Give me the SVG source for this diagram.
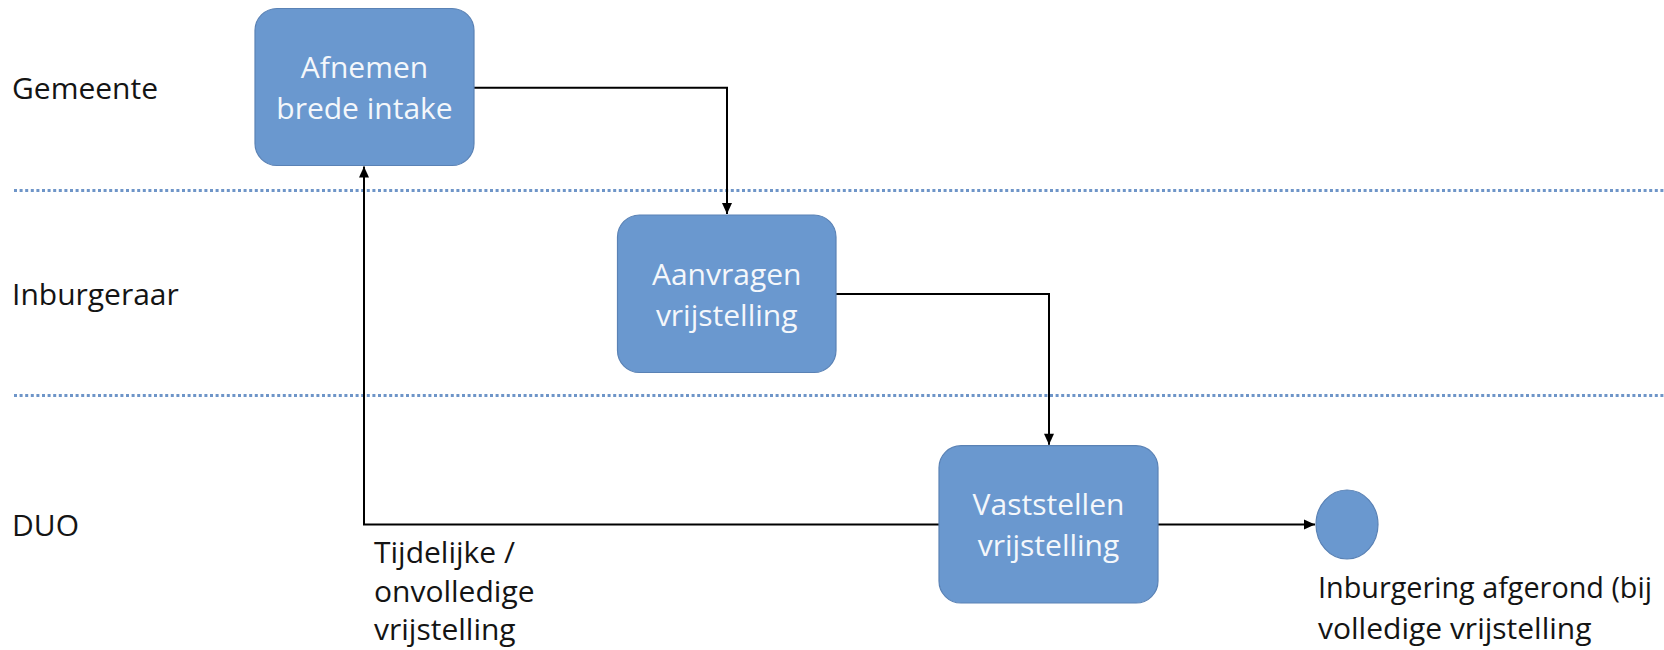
<svg xmlns="http://www.w3.org/2000/svg" width="1664" height="650" viewBox="0 0 1664 650">
<style>
  .lane { stroke: #6E95C8; stroke-width: 3; stroke-dasharray: 3 2.6; fill: none; }
  .box { fill: #6A98CF; stroke: #5A82B5; stroke-width: 1.2; }
  .btxt { font-family: "Open Sans", "Noto Sans", sans-serif; font-size: 30px; fill: #F4F7FB; text-anchor: middle; }
  .lbl { font-family: "Open Sans", "Noto Sans", sans-serif; font-size: 30px; fill: #141414; }
  .conn { stroke: #000; stroke-width: 2; fill: none; }
</style>
<defs>
  <marker id="arr" markerUnits="userSpaceOnUse" markerWidth="13" markerHeight="12" viewBox="0 0 13 12" refX="12" refY="6" orient="auto">
    <path d="M1,1 L12,6 L1,11 Z" fill="#000"/>
  </marker>
</defs>
<rect width="1664" height="650" fill="#FFFFFF"/>

<g id="lanes">
  <line class="lane" x1="14" y1="190.5" x2="1664" y2="190.5"/>
  <line class="lane" x1="14" y1="395.5" x2="1664" y2="395.5"/>
  <text class="lbl" x="12" y="98.5">Gemeente</text>
  <text class="lbl" x="12" y="304.5">Inburgeraar</text>
  <text class="lbl" x="12" y="536">DUO</text>
</g>

<g id="connectors">
  <path class="conn" d="M474,87.7 H727 V214" marker-end="url(#arr)"/>
  <path class="conn" d="M836,294 H1049 V444.7" marker-end="url(#arr)"/>
  <path class="conn" d="M939,524.5 H364 V166.5" marker-end="url(#arr)"/>
  <path class="conn" d="M1158,524.5 H1315" marker-end="url(#arr)"/>
  <text class="lbl" x="374">
    <tspan x="374" y="563">Tijdelijke /</tspan>
    <tspan x="374" y="602">onvolledige</tspan>
    <tspan x="374" y="640">vrijstelling</tspan>
  </text>
</g>

<g id="node-afnemen">
  <rect class="box" x="255" y="8.5" width="219" height="157" rx="22" ry="22"/>
  <text class="btxt" x="364.5" y="78">Afnemen</text>
  <text class="btxt" x="364.5" y="118.5">brede intake</text>
</g>

<g id="node-aanvragen">
  <rect class="box" x="617.5" y="215" width="218.5" height="157.5" rx="22" ry="22"/>
  <text class="btxt" x="726.7" y="285">Aanvragen</text>
  <text class="btxt" x="726.7" y="325.5">vrijstelling</text>
</g>

<g id="node-vaststellen">
  <rect class="box" x="939" y="445.7" width="219" height="157.3" rx="22" ry="22"/>
  <text class="btxt" x="1048.5" y="515">Vaststellen</text>
  <text class="btxt" x="1048.5" y="555.5">vrijstelling</text>
</g>

<g id="node-end">
  <ellipse class="box" cx="1347" cy="524.5" rx="31" ry="34.5"/>
  <text class="lbl" x="1318" y="598" textLength="334" lengthAdjust="spacingAndGlyphs">Inburgering afgerond (bij</text>
  <text class="lbl" x="1318" y="639">volledige vrijstelling</text>
</g>
</svg>
